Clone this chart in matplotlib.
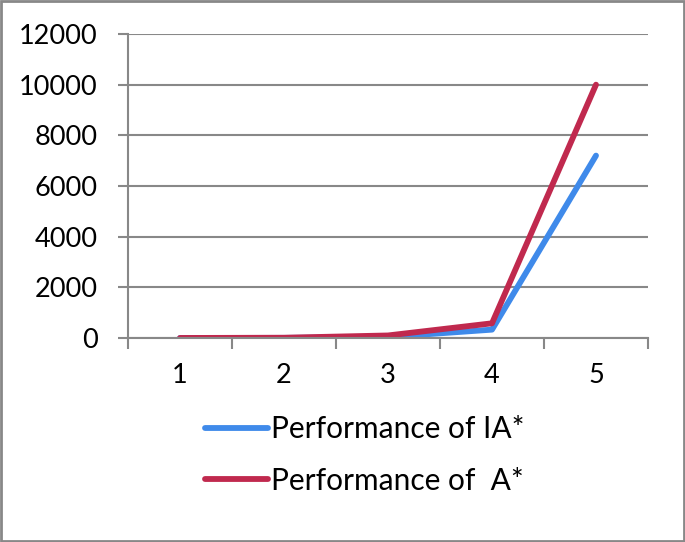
import matplotlib.pyplot as plt
from matplotlib.patches import Rectangle

# values
categories = ['1', '2', '3', '4', '5']
perf_ia = [1, 5, 40, 330, 7200]
perf_a = [1, 10, 100, 580, 10000]

plt.rcParams['font.family'] = ['Lato', 'DejaVu Sans']

fig = plt.figure(figsize=(6.85, 5.42), dpi=100)
ax = fig.add_axes([128 / 685, 1 - 338 / 542, (648 - 128) / 685, (338 - 34) / 542])

x = range(len(categories))
ax.plot(x, perf_ia, color='#3F8AEA', lw=4.2, solid_capstyle='round',
        label='Performance of IA*')
ax.plot(x, perf_a, color='#C0294E', lw=4.2, solid_capstyle='round',
        label='Performance of  A*')

ax.set_xlim(-0.5, len(categories) - 0.5)
ax.set_ylim(0, 12000)
ax.set_yticks(range(0, 12001, 2000))
ax.set_xticks(list(x))
ax.set_xticklabels(categories)
ax.set_xticks([i - 0.5 for i in range(len(categories) + 1)], minor=True)

gray = '#888888'
ax.grid(axis='y', color=gray, lw=1.5)
ax.set_axisbelow(True)
for s in ['top', 'right']:
    ax.spines[s].set_visible(False)
for s in ['left', 'bottom']:
    ax.spines[s].set_color(gray)
    ax.spines[s].set_linewidth(1.5)

ax.tick_params(axis='y', length=7, width=1.5, color=gray, labelsize=19.5, pad=15)
ax.tick_params(axis='x', which='major', length=0, labelsize=19.5, pad=18)
ax.tick_params(axis='x', which='minor', length=8, width=1.5, color=gray)

leg = fig.legend(loc='center', bbox_to_anchor=(365 / 685, 1 - 455 / 542),
                 frameon=False, fontsize=21.5, handlelength=2.1,
                 handletextpad=0.1, labelspacing=0.8)

fig.patches.append(Rectangle((0.002, 0.002), 0.996, 0.996, transform=fig.transFigure,
                             fill=False, edgecolor=gray, lw=2))

fig.savefig('out.png', dpi=100)
